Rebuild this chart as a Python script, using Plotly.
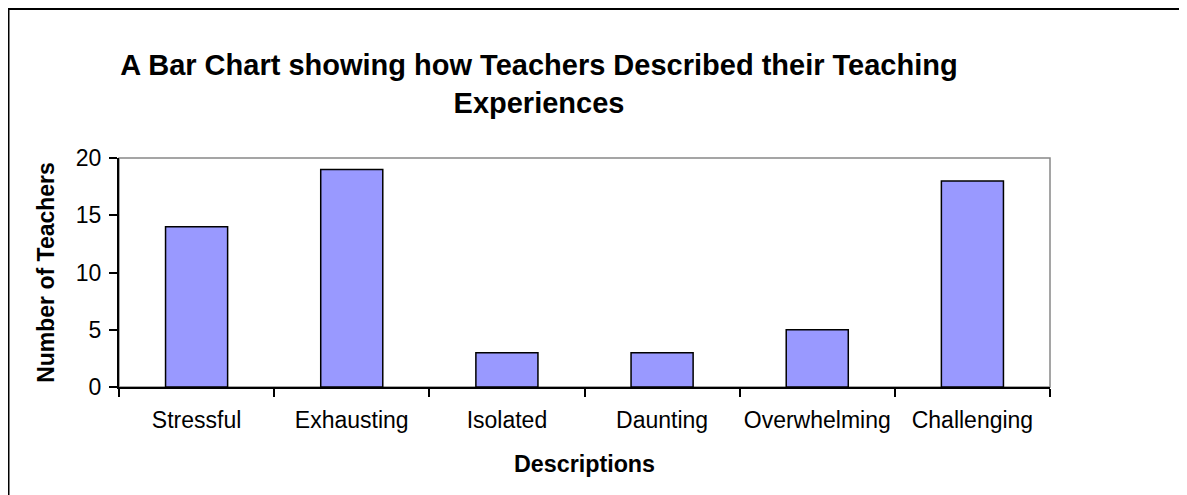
import plotly.graph_objects as go

categories = ["Stressful", "Exhausting", "Isolated", "Daunting", "Overwhelming", "Challenging"]
teachers = [14, 19, 3, 3, 5, 18]
y_ticks = [0, 5, 10, 15, 20]

# figure is placed at (8, 8) in the page by the default body margin
W, H = 1187, 495
L, R, T, B = 111, 1042, 150, 379
pw, ph = R - L, B - T
FONT = "Liberation Sans, Arial, sans-serif"

fig = go.Figure(go.Bar(
    x=categories, y=teachers,
    marker=dict(color="#9999FF", line=dict(color="black", width=1.5)),
))

def px_x(x):
    return (x - L) / pw

def px_y(y):
    return (B - y) / ph

fig.update_layout(
    width=W, height=H,
    margin=dict(l=L, r=W - R, t=T, b=H - B, pad=0, autoexpand=False),
    paper_bgcolor="white", plot_bgcolor="white",
    showlegend=False,
    bargap=0.6,
    font=dict(family=FONT, color="black"),
    title=dict(
        text="<b>A Bar Chart showing how Teachers Described their Teaching<br>Experiences</b>",
        x=531 / W, xanchor="center", xref="container",
        y=1 - 67 / H, yanchor="top", yref="container",
        font=dict(family=FONT, size=29, color="black"),
    ),
    xaxis=dict(
        showline=True, linecolor="black", linewidth=2,
        ticks="outside", tickson="boundaries", ticklen=8, tickwidth=1.5, tickcolor="black",
        tickfont=dict(size=23, family=FONT, color="black"),
        tickangle=0, automargin=False,
        ticklabelstandoff=11,
        showgrid=False, zeroline=False,
        title=dict(text="<b>Descriptions</b>", font=dict(size=23.3, family=FONT), standoff=24),
    ),
    yaxis=dict(
        range=[0, 20], tickvals=y_ticks,
        showline=True, linecolor="black", linewidth=2,
        ticks="outside", ticklen=8, tickwidth=1.5, tickcolor="black",
        tickfont=dict(size=23, family=FONT, color="black"),
        automargin=False,
        ticklabelstandoff=3,
        showgrid=False, zeroline=False,
        title=dict(text="<b>Number of Teachers</b>", font=dict(size=23, family=FONT), standoff=15),
    ),
    shapes=[
        dict(type="rect", xref="paper", yref="paper", x0=0, x1=1, y0=0, y1=1,
             line=dict(color="#888888", width=1.5), layer="below"),
        dict(type="rect", xref="paper", yref="paper",
             x0=px_x(0.5), x1=px_x(1200), y0=px_y(1), y1=px_y(510),
             line=dict(color="black", width=2), layer="below"),
    ],
)

fig.write_html("out.html")
